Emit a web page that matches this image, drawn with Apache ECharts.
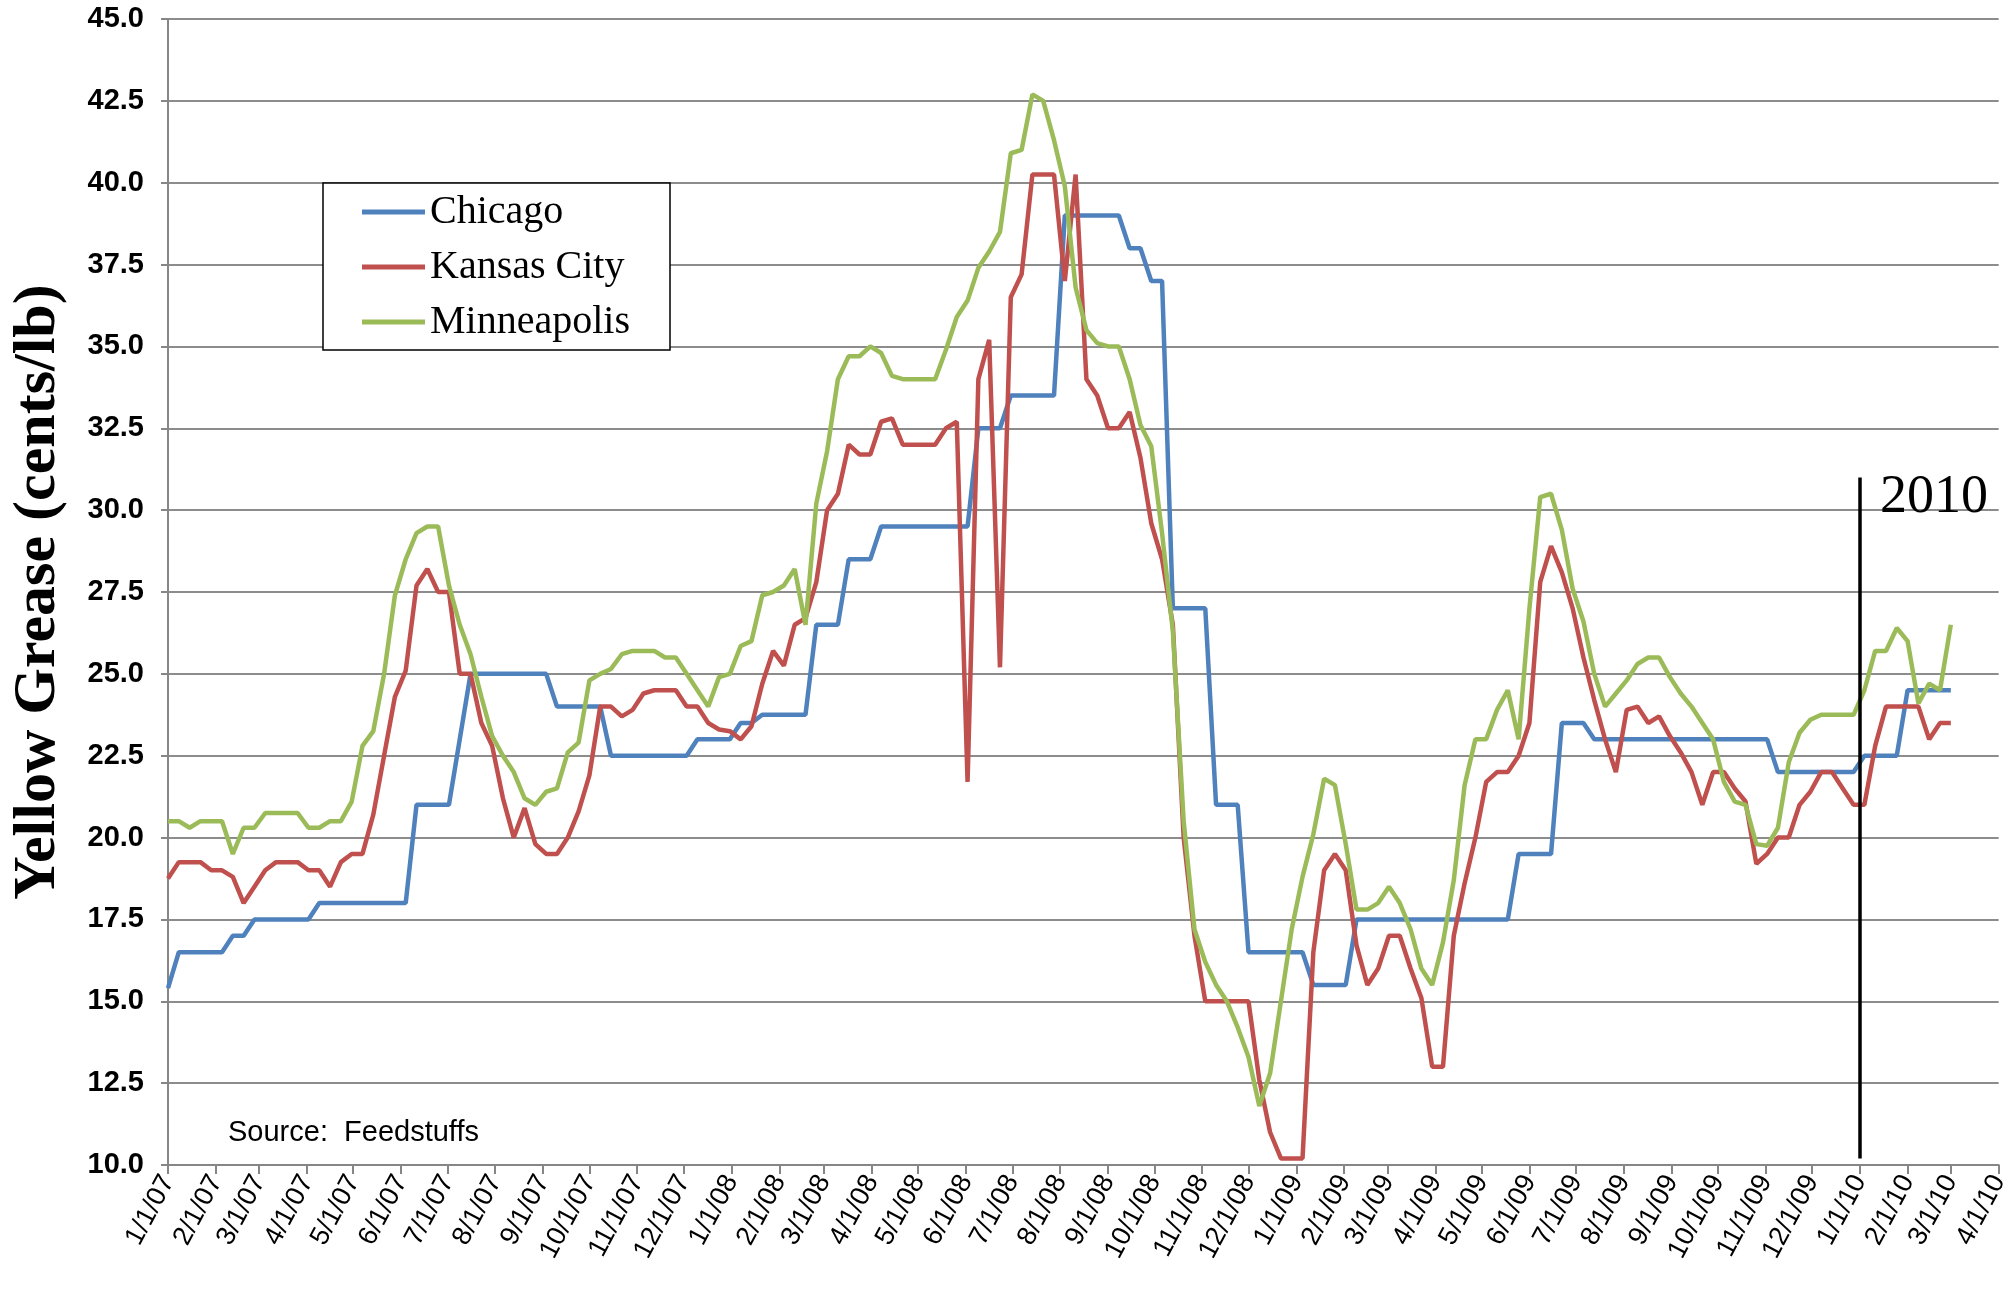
<!DOCTYPE html>
<html>
<head>
<meta charset="utf-8">
<script src="https://cdn.jsdelivr.net/npm/echarts@6/dist/echarts.min.js"></script>
<style>
  html, body { margin: 0; padding: 0; background: #fff; }
  #chart { width: 2012px; height: 1298px; }
</style>
</head>
<body>
<div id="chart"></div>
<script>
// weekly prices, one value per week starting 1/1/07 (166 weeks, last 3/1/10)
const chicago = [
  15.4, 16.5, 16.5, 16.5, 16.5, 16.5, 17.0, 17.0, 17.5, 17.5,
  17.5, 17.5, 17.5, 17.5, 18.0, 18.0, 18.0, 18.0, 18.0, 18.0,
  18.0, 18.0, 18.0, 21.0, 21.0, 21.0, 21.0, 23.0, 25.0, 25.0,
  25.0, 25.0, 25.0, 25.0, 25.0, 25.0, 24.0, 24.0, 24.0, 24.0,
  24.0, 22.5, 22.5, 22.5, 22.5, 22.5, 22.5, 22.5, 22.5, 23.0,
  23.0, 23.0, 23.0, 23.5, 23.5, 23.75, 23.75, 23.75, 23.75, 23.75,
  26.5, 26.5, 26.5, 28.5, 28.5, 28.5, 29.5, 29.5, 29.5, 29.5,
  29.5, 29.5, 29.5, 29.5, 29.5, 32.5, 32.5, 32.5, 33.5, 33.5,
  33.5, 33.5, 33.5, 39.0, 39.0, 39.0, 39.0, 39.0, 39.0, 38.0,
  38.0, 37.0, 37.0, 27.0, 27.0, 27.0, 27.0, 21.0, 21.0, 21.0,
  16.5, 16.5, 16.5, 16.5, 16.5, 16.5, 15.5, 15.5, 15.5, 15.5,
  17.5, 17.5, 17.5, 17.5, 17.5, 17.5, 17.5, 17.5, 17.5, 17.5,
  17.5, 17.5, 17.5, 17.5, 17.5, 19.5, 19.5, 19.5, 19.5, 23.5,
  23.5, 23.5, 23.0, 23.0, 23.0, 23.0, 23.0, 23.0, 23.0, 23.0,
  23.0, 23.0, 23.0, 23.0, 23.0, 23.0, 23.0, 23.0, 23.0, 22.0,
  22.0, 22.0, 22.0, 22.0, 22.0, 22.0, 22.0, 22.5, 22.5, 22.5,
  22.5, 24.5, 24.5, 24.5, 24.5, 24.5
];
const kansasCity = [
  18.75, 19.25, 19.25, 19.25, 19.0, 19.0, 18.8, 18.0, 18.5, 19.0,
  19.25, 19.25, 19.25, 19.0, 19.0, 18.5, 19.25, 19.5, 19.5, 20.7,
  22.5, 24.3, 25.1, 27.7, 28.2, 27.5, 27.5, 25.0, 25.0, 23.5,
  22.8, 21.2, 20.0, 20.9, 19.8, 19.5, 19.5, 20.0, 20.8, 21.9,
  24.0, 24.0, 23.7, 23.9, 24.4, 24.5, 24.5, 24.5, 24.0, 24.0,
  23.5, 23.3, 23.25, 23.0, 23.4, 24.7, 25.7, 25.25, 26.5, 26.7,
  27.8, 30.0, 30.5, 32.0, 31.7, 31.7, 32.7, 32.8, 32.0, 32.0,
  32.0, 32.0, 32.5, 32.7, 21.7, 34.0, 35.2, 25.2, 36.5, 37.2,
  40.25, 40.25, 40.25, 37.0, 40.25, 34.0, 33.5, 32.5, 32.5, 33.0,
  31.6, 29.6, 28.5, 26.5, 20.0, 17.0, 15.0, 15.0, 15.0, 15.0,
  15.0, 12.6, 11.0, 10.2, 10.2, 10.2, 16.5, 19.0, 19.5, 19.0,
  16.7, 15.5, 16.0, 17.0, 17.0, 16.0, 15.1, 13.0, 13.0, 17.0,
  18.6, 20.0, 21.7, 22.0, 22.0, 22.5, 23.5, 27.8, 28.9, 28.1,
  27.0, 25.5, 24.2, 23.0, 22.0, 23.9, 24.0, 23.5, 23.7, 23.1,
  22.6, 22.0, 21.0, 22.0, 22.0, 21.5, 21.1, 19.2, 19.5, 20.0,
  20.0, 21.0, 21.4, 22.0, 22.0, 21.5, 21.0, 21.0, 22.8, 24.0,
  24.0, 24.0, 24.0, 23.0, 23.5, 23.5
];
const minneapolis = [
  20.5, 20.5, 20.3, 20.5, 20.5, 20.5, 19.5, 20.3, 20.3, 20.75,
  20.75, 20.75, 20.75, 20.3, 20.3, 20.5, 20.5, 21.1, 22.8, 23.25,
  25.0, 27.4, 28.5, 29.3, 29.5, 29.5, 27.7, 26.5, 25.6, 24.3,
  23.1, 22.5, 22.0, 21.2, 21.0, 21.4, 21.5, 22.6, 22.9, 24.8,
  25.0, 25.15, 25.6, 25.7, 25.7, 25.7, 25.5, 25.5, 25.0, 24.5,
  24.0, 24.9, 25.0, 25.85, 26.0, 27.4, 27.5, 27.7, 28.2, 26.5,
  30.2, 31.8, 34.0, 34.7, 34.7, 35.0, 34.8, 34.1, 34.0, 34.0,
  34.0, 34.0, 34.9, 35.9, 36.4, 37.4, 37.9, 38.5, 40.9, 41.0,
  42.7, 42.5, 41.3, 39.9, 36.8, 35.5, 35.1, 35.0, 35.0, 34.0,
  32.6, 31.95, 29.3, 26.3, 20.5, 17.2, 16.2, 15.5, 15.0, 14.2,
  13.3, 11.8, 12.8, 15.0, 17.2, 18.8, 20.1, 21.8, 21.6, 19.8,
  17.8, 17.8, 18.0, 18.5, 18.0, 17.2, 16.0, 15.5, 16.8, 18.7,
  21.6, 23.0, 23.0, 23.9, 24.5, 23.0, 27.0, 30.4, 30.5, 29.4,
  27.6, 26.6, 25.0, 24.0, 24.4, 24.8, 25.3, 25.5, 25.5, 24.9,
  24.4, 24.0, 23.5, 23.0, 21.7, 21.1, 21.0, 19.8, 19.75, 20.3,
  22.3, 23.2, 23.6, 23.75, 23.75, 23.75, 23.75, 24.5, 25.7, 25.7,
  26.4, 26.0, 24.1, 24.7, 24.5, 26.5
];

// month tick labels shown on the date axis
const monthLabels = [
  '1/1/07', '2/1/07', '3/1/07', '4/1/07', '5/1/07', '6/1/07', '7/1/07', '8/1/07',
  '9/1/07', '10/1/07', '11/1/07', '12/1/07',
  '1/1/08', '2/1/08', '3/1/08', '4/1/08', '5/1/08', '6/1/08', '7/1/08', '8/1/08',
  '9/1/08', '10/1/08', '11/1/08', '12/1/08',
  '1/1/09', '2/1/09', '3/1/09', '4/1/09', '5/1/09', '6/1/09', '7/1/09', '8/1/09',
  '9/1/09', '10/1/09', '11/1/09', '12/1/09',
  '1/1/10', '2/1/10', '3/1/10', '4/1/10'
];

const fmt = d => (d.getMonth() + 1) + '/' + d.getDate() + '/' + String(d.getFullYear()).slice(2);

// one category per day so the month ticks land on the right day
const days = [];
for (let d = new Date(2007, 0, 1); d <= new Date(2010, 3, 1); d.setDate(d.getDate() + 1)) {
  days.push(fmt(d));
}
const weekDates = chicago.map((v, i) => days[i * 7]);
const monthSet = new Set(monthLabels);
const isMonth = (idx, val) => monthSet.has(val);

const chart = echarts.init(document.getElementById('chart'));

const lineSeries = (name, values, color) => ({
  name: name,
  type: 'line',
  symbol: 'none',
  data: values.map((v, i) => [weekDates[i], v]),
  lineStyle: { width: 4.5, color: color },
  itemStyle: { color: color }
});

const mnSeries = lineSeries('Minneapolis', minneapolis, '#9BBB59');
mnSeries.markLine = {
  silent: true,
  symbol: ['none', 'none'],
  label: { show: false },
  lineStyle: { color: '#000', width: 3.5, type: 'solid' },
  data: [[{ coord: ['1/1/10', 31.0] }, { coord: ['1/1/10', 10.2] }]]
};

const option = {
  animation: false,
  backgroundColor: '#fff',
  grid: {
    left: 167,
    right: 13,
    top: 19,
    bottom: 133
  },
  xAxis: {
    type: 'category',
    data: days,
    boundaryGap: false,
    axisLine: { lineStyle: { color: '#868686', width: 2 } },
    axisTick: { interval: isMonth, length: 9, lineStyle: { color: '#868686', width: 2 } },
    axisLabel: {
      interval: isMonth,
      rotate: 62,
      margin: 12,
      color: '#000',
      fontFamily: 'Liberation Sans',
      fontSize: 27
    },
    splitLine: { show: false }
  },
  yAxis: {
    type: 'value',
    min: 10,
    max: 45,
    interval: 2.5,
    name: 'Yellow Grease (cents/lb)',
    nameLocation: 'middle',
    nameRotate: 90,
    nameGap: 100,
    nameTextStyle: {
      fontFamily: 'Liberation Serif',
      fontWeight: 'bold',
      fontSize: 60,
      color: '#000'
    },
    axisLine: { show: true, lineStyle: { color: '#868686', width: 2 } },
    axisTick: { show: true, length: 7, lineStyle: { color: '#868686', width: 2 } },
    axisLabel: {
      formatter: v => v.toFixed(1),
      margin: 24,
      color: '#000',
      fontFamily: 'Liberation Sans',
      fontWeight: 'bold',
      fontSize: 29
    },
    splitLine: { lineStyle: { color: '#8c8c8c', width: 2 } }
  },
  legend: {
    orient: 'vertical',
    left: 362,
    top: 190,
    padding: 0,
    icon: 'rect',
    itemWidth: 63,
    itemHeight: 5,
    itemGap: 11,
    z: 20,
    textStyle: {
      fontFamily: 'Liberation Serif',
      fontSize: 40,
      lineHeight: 44,
      color: '#000'
    },
    data: ['Chicago', 'Kansas City', 'Minneapolis']
  },
  graphic: [
    {
      type: 'rect',
      z: 10,
      shape: { x: 323, y: 183, width: 347, height: 167 },
      style: { fill: '#fff', stroke: '#000', lineWidth: 1.5 }
    },
    {
      type: 'text',
      z: 10,
      left: 228,
      top: 1118,
      style: { text: 'Source:  Feedstuffs', font: '29px "Liberation Sans"', fill: '#000' }
    },
    {
      type: 'text',
      z: 10,
      left: 1880,
      top: 471,
      style: { text: '2010', font: '54px "Liberation Serif"', fill: '#000' }
    }
  ],
  series: [
    lineSeries('Chicago', chicago, '#4F81BD'),
    lineSeries('Kansas City', kansasCity, '#C0504D'),
    mnSeries
  ]
};

chart.setOption(option);
window.addEventListener('resize', () => chart.resize());
</script>
</body>
</html>
